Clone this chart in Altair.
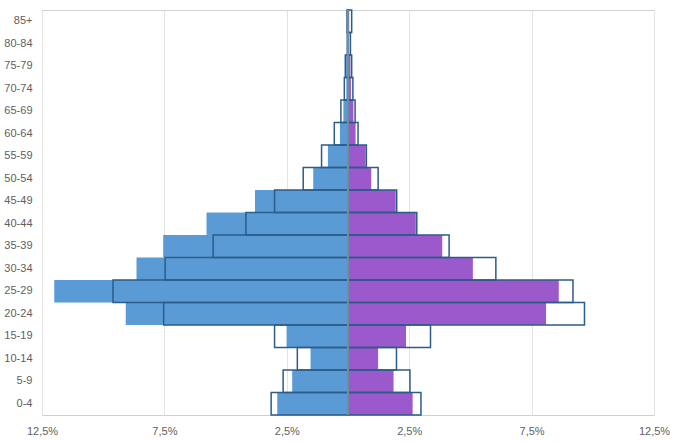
import altair as alt
import pandas as pd

ages = ["0-4", "5-9", "10-14", "15-19", "20-24", "25-29", "30-34", "35-39", "40-44",
        "45-49", "50-54", "55-59", "60-64", "65-69", "70-74", "75-79", "80-84", "85+"]
male_fill = [2.89, 2.28, 1.53, 2.51, 9.08, 12.0, 8.64, 7.55, 5.78, 3.80, 1.42, 0.82, 0.33, 0.19, 0.07, 0.08, 0.03, 0.02]
male_outline = [3.14, 2.65, 2.07, 3.00, 7.53, 9.60, 7.47, 5.51, 4.17, 3.00, 1.83, 1.08, 0.56, 0.29, 0.15, 0.11, 0.03, 0.04]
female_fill = [2.64, 1.86, 1.23, 2.37, 8.09, 8.61, 5.10, 3.85, 2.77, 1.95, 0.95, 0.72, 0.31, 0.22, 0.12, 0.10, 0.05, 0.05]
female_outline = [2.98, 2.53, 1.98, 3.37, 9.66, 9.19, 6.04, 4.13, 2.81, 1.99, 1.23, 0.75, 0.41, 0.29, 0.20, 0.15, 0.10, 0.15]
tick_values = [-12.5, -7.5, -2.5, 2.5, 7.5, 12.5]

fill_rows = []
for a, m, f in zip(ages, male_fill, female_fill):
    fill_rows.append({"age": a, "series": "Männer", "value": -m})
    fill_rows.append({"age": a, "series": "Frauen", "value": f})
outline_rows = []
for a, m, f in zip(ages, male_outline, female_outline):
    outline_rows.append({"age": a, "series": "Männer", "value": -m})
    outline_rows.append({"age": a, "series": "Frauen", "value": f})

fill_df = pd.DataFrame(fill_rows)
outline_df = pd.DataFrame(outline_rows)
order = list(reversed(ages))

xscale = alt.Scale(domain=[-12.5, 12.5], nice=False, zero=False)
yscale = alt.Scale(domain=order, paddingInner=0, paddingOuter=0)

xaxis = alt.Axis(values=tick_values, title=None, grid=True, gridColor="#E3E3E3", gridWidth=1,
                 domain=False, ticks=False, labelPadding=10, labelFlush=False,
                 labelExpr="replace(format(abs(datum.value), '.1f'), '.', ',') + '%'",
                 labelFont="Liberation Sans", labelFontSize=11, labelColor="#606060")
yaxis = alt.Axis(title=None, domain=False, ticks=False, labelPadding=10,
                 labelFont="Liberation Sans", labelFontSize=11, labelColor="#606060")

filled = alt.Chart(fill_df).mark_bar(strokeWidth=0).encode(
    x=alt.X("value:Q", scale=xscale, axis=xaxis),
    x2=alt.datum(0),
    y=alt.Y("age:N", scale=yscale, axis=yaxis, sort=order),
    color=alt.Color("series:N", scale=alt.Scale(domain=["Männer", "Frauen"], range=["#5B9BD5", "#9B59CB"]), legend=None),
)

outlined = alt.Chart(outline_df).mark_bar(fill="transparent", stroke="#2B5C8A", strokeWidth=1.5).encode(
    x=alt.X("value:Q", scale=xscale),
    x2=alt.datum(0),
    y=alt.Y("age:N", scale=yscale, sort=order),
)

center = alt.Chart(pd.DataFrame({"x": [0]})).mark_rule(color="#8E9AA6", strokeWidth=1.5).encode(
    x=alt.X("x:Q", scale=xscale)
)

chart = alt.layer(filled, outlined, center).properties(
    width=612, height=405,
    autosize=alt.AutoSizeParams(type="none"),
    padding={"left": 42, "top": 10, "right": 24, "bottom": 27},
).configure_view(stroke="#D0D0D0", strokeWidth=1)

chart.save("out.html", embed_options={"renderer": "svg", "actions": False})
